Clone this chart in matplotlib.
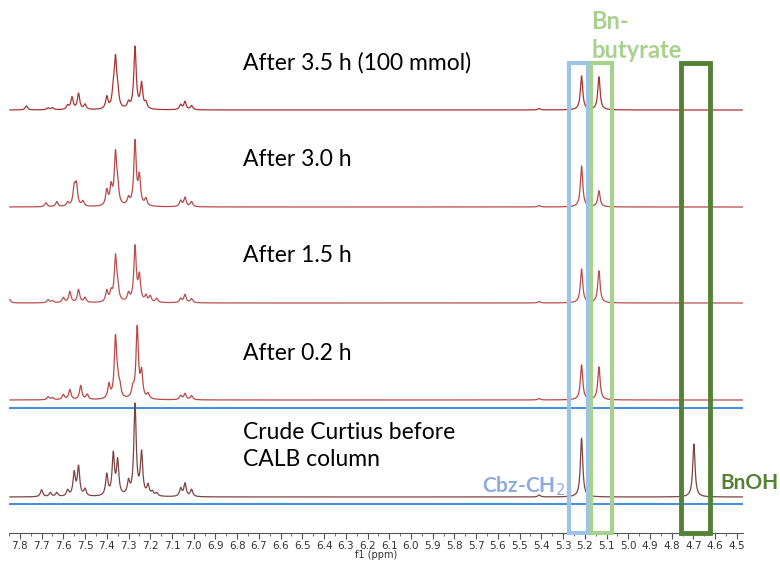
import numpy as np
import matplotlib
matplotlib.use('Agg')
import matplotlib.pyplot as plt
from matplotlib.patches import Rectangle

pos_35 = [7.77, 7.67, 7.65, 7.58, 7.56, 7.53, 7.50, 7.40, 7.37, 7.36, 7.35, 7.30, 7.27, 7.24, 7.22, 7.06, 7.04, 7.01, 5.41, 5.215, 5.135]
alt_35 = [4, 2, 2, 4, 12, 16, 5, 12, 15, 46, 14, 6, 62, 25, 6, 5, 8, 4, 1.5, 34, 33]

pos_30 = [7.68, 7.63, 7.58, 7.55, 7.54, 7.51, 7.40, 7.38, 7.36, 7.35, 7.30, 7.27, 7.25, 7.22, 7.06, 7.04, 7.01, 5.41, 5.215, 5.135]
alt_30 = [4, 5, 4, 18, 20, 5, 15, 18, 50, 16, 7, 64, 28, 7, 6, 9, 5, 1.5, 41, 16]

pos_15 = [7.85, 7.67, 7.65, 7.60, 7.57, 7.53, 7.50, 7.40, 7.38, 7.36, 7.35, 7.30, 7.27, 7.25, 7.22, 7.20, 7.17, 7.06, 7.04, 7.01, 5.41, 5.215, 5.135]
alt_15 = [5, 3, 2, 5, 11, 13, 5, 11, 9, 44, 12, 8, 55, 25, 6, 6, 4, 4, 8, 4, 1.5, 34, 32]

pos_02 = [7.67, 7.65, 7.60, 7.57, 7.52, 7.49, 7.39, 7.36, 7.35, 7.34, 7.28, 7.26, 7.24, 7.21, 7.06, 7.04, 7.01, 5.41, 5.215, 5.135]
alt_02 = [3, 2, 5, 10, 14, 5, 14, 60, 12, 10, 9, 71, 25, 5, 4, 6, 4, 1.5, 35, 33]

pos_crude = [7.70, 7.66, 7.63, 7.58, 7.55, 7.53, 7.50, 7.40, 7.37, 7.35, 7.30, 7.27, 7.24, 7.21, 7.19, 7.17, 7.06, 7.04, 7.01, 5.41, 5.215, 4.698]
alt_crude = [7, 4, 4, 6, 23, 29, 7, 21, 41, 34, 13, 91, 42, 10, 4, 3, 8, 13, 7, 2, 59, 53]

rotulos = ['After 3.5 h (100 mmol)', 'After 3.0 h', 'After 1.5 h', 'After 0.2 h', 'Crude Curtius before\nCALB column']
linhas_base = [423, 326, 230, 133, 36]
cores = ['#a93434', '#b84a4a', '#bb5050', '#b94848', '#7d4444']

ppm = np.linspace(7.846, 4.472, 4000)
larg = 0.0065


def espectro(posicoes, alturas):
    y = np.zeros_like(ppm)
    for p, h in zip(posicoes, alturas):
        y += h / (1 + ((ppm - p) / larg) ** 2)
    return y


fig = plt.figure(figsize=(7.8, 5.61), dpi=100)
ax = fig.add_axes([9 / 780, 28 / 561, 734 / 780, 533 / 561])
ax.set_xlim(7.846, 4.472)
ax.set_ylim(0, 533)

dados = [(pos_35, alt_35), (pos_30, alt_30), (pos_15, alt_15), (pos_02, alt_02), (pos_crude, alt_crude)]
for (p, a), base, cor in zip(dados, linhas_base, cores):
    ax.plot(ppm, base + espectro(p, a), color=cor, lw=0.9, zorder=3)

for base, txt in zip(linhas_base, rotulos):
    if '\n' in txt:
        ax.text(6.775, base + 51, txt, fontsize=16.5, family='Lato', va='center', linespacing=1.4)
    else:
        ax.text(6.775, base + 47, txt, fontsize=16.5, family='Lato', va='center')

# linhas azuis horizontais
for yb in [125, 29]:
    ax.axhline(yb, color='#4a90e2', lw=1.5, zorder=2)

# caixas
ax.add_patch(Rectangle((5.272, 0), 5.185 - 5.272, 470, fill=False, ec='#9dc3e6', lw=3, zorder=4, clip_on=False))
ax.add_patch(Rectangle((5.171, 0), 5.075 - 5.171, 470, fill=False, ec='#a9d18e', lw=3, zorder=4, clip_on=False))
ax.add_patch(Rectangle((4.758, 0), 4.624 - 4.758, 470, fill=False, ec='#548235', lw=3.5, zorder=4, clip_on=False))

ax.text(5.17, 497, 'Bn-\nbutyrate', color='#a9d18e', fontsize=17, fontweight='bold', family='Lato',
        va='center', ha='left', linespacing=1.35)
ax.text(5.29, 47, 'Cbz-CH$_2$', color='#8faadc', fontsize=15, fontweight='bold', family='Lato',
        va='center', ha='right')
ax.text(4.575, 50, 'BnOH', color='#548235', fontsize=15, fontweight='bold', family='Lato',
        va='center', ha='left')

# eixo
for s in ['top', 'left', 'right']:
    ax.spines[s].set_visible(False)
ax.spines['bottom'].set_color('#555555')
ax.set_yticks([])
ax.set_xticks(np.round(np.arange(7.8, 4.45, -0.1), 1))
ax.set_xticks(np.arange(7.85, 4.45, -0.05), minor=True)
ax.tick_params(axis='x', which='major', length=4, width=0.8, color='#555555', labelsize=7.5,
               labelcolor='#333333', pad=2)
ax.tick_params(axis='x', which='minor', length=2, width=0.6, color='#555555')
ax.set_xlabel('f1 (ppm)', fontsize=7, color='#333333', labelpad=-1)

fig.savefig('out.png', dpi=100)
